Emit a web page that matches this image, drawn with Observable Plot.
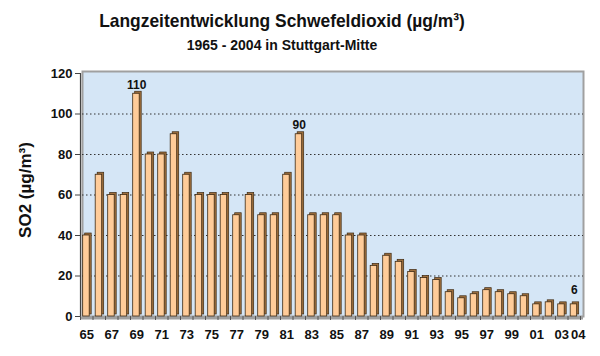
<!DOCTYPE html>
<html><head><meta charset="utf-8">
<script src="https://cdn.jsdelivr.net/npm/d3@7"></script>
<script src="https://cdn.jsdelivr.net/npm/@observablehq/plot@0.6"></script>
<style>
body{margin:0;background:#fff;font-family:"Liberation Sans",Arial,sans-serif;}
#wrap{position:relative;width:600px;height:356px;overflow:hidden;}
.t{position:absolute;left:0;width:564px;text-align:center;font-weight:bold;color:#111;white-space:nowrap;}
#title{top:10px;font-size:18.5px;line-height:22px;transform:scaleX(0.94);transform-origin:282px 0;}
#sub{top:37px;font-size:14px;line-height:16px;}
#chart{position:absolute;left:0;top:58px;}
</style></head>
<body>
<div id="wrap">
<div id="title" class="t">Langzeitentwicklung Schwefeldioxid (µg/m³)</div>
<div id="sub" class="t">1965 - 2004 in Stuttgart-Mitte</div>
<div id="chart"></div>
</div>
<script>
const years = [1965,1966,1967,1968,1969,1970,1971,1972,1973,1974,1975,1976,1977,1978,1979,1980,1981,1982,1983,1984,1985,1986,1987,1988,1989,1990,1991,1992,1993,1994,1995,1996,1997,1998,1999,2000,2001,2002,2003,2004];
const values = [40,70,60,60,110,80,80,90,70,60,60,60,50,60,50,50,70,90,50,50,50,40,40,25,30,27,22,19,18,12,9,11,13,12,11,10,6,7,6,6];
const tickYears = [1965,1967,1969,1971,1973,1975,1977,1979,1981,1983,1985,1987,1989,1991,1993,1995,1997,1999,2001,2003,2004];
const yTicks = [0,20,40,60,80,100,120];
const gridValues = [20,40,60,80,100];
const peakLabelYears = [1969,1982];
const endLabelYears = [2004];
const yLabel = "SO2 (µg/m³)";

const data = years.map((year,i)=>({year, value: values[i]}));
const peakLabels = data.filter(d=>peakLabelYears.includes(d.year));
const endLabels = data.filter(d=>endLabelYears.includes(d.year));
const boundaries = [...years, years[years.length-1]+1];
const yearFmt = d => String(Math.round(d - 0.5)).slice(2);

const chart = Plot.plot({
  width: 600,
  height: 298,
  marginLeft: 80,
  marginRight: 20,
  marginTop: 15,
  marginBottom: 40,
  style: {fontFamily: '"Liberation Sans", Arial, sans-serif', fontSize: "13px", fontWeight: "bold", color: "#111", background: "transparent"},
  x: {domain: [years[0], years[years.length-1]+1], label: null},
  y: {domain: [0, 120], label: null},
  marks: [
    Plot.frame({fill: "#d5e6f6", stroke: "#a0a0a0", strokeWidth: 2, insetLeft: 2, insetRight: -3, insetTop: -2}),
    Plot.ruleY(gridValues, {stroke: "#333", strokeOpacity: 1, strokeDasharray: "1.5,2.5", insetLeft: 2, insetRight: -3}),
    Plot.ruleY([0], {stroke: "#a0a0a0", strokeWidth: 3, dy: 1.5, insetRight: -3}),
    Plot.rectY(data, {x1: "year", x2: d => d.year + 1, y: "value", insetLeft: 2.7, insetRight: 3.3, dx: 2, dy: -2, fill: "#a0703e", stroke: "#3c2812", strokeWidth: 0.7}),
    Plot.rectY(data, {x1: "year", x2: d => d.year + 1, y: "value", insetLeft: 2.7, insetRight: 3.3, fill: "#ffcc99", stroke: "#3c2812", strokeWidth: 0.8}),
    Plot.ruleX([years[0]], {y1: 0, y2: 120, stroke: "#444", strokeWidth: 1.2}),
    Plot.axisY(yTicks, {tickSize: 5, tickPadding: 3, fontSize: 13, fontWeight: "bold", stroke: "#444"}),
    Plot.axisX(boundaries, {tickSize: 4, tickFormat: () => "", stroke: "#555"}),
    Plot.axisX(tickYears.slice(0, -1).map(y => y + 0.5), {tickSize: 0, tickPadding: 13, fontSize: 13, fontWeight: "bold", tickFormat: yearFmt}),
    Plot.axisX(tickYears.slice(-1).map(y => y + 0.5), {tickSize: 0, tickPadding: 13, dx: 4, fontSize: 13, fontWeight: "bold", tickFormat: yearFmt}),
    Plot.text(peakLabels, {x: d => d.year + 0.5, y: "value", text: d => String(d.value), dy: -9, fontSize: 12, fontWeight: "bold", fill: "#111"}),
    Plot.text(endLabels, {x: d => d.year + 0.5, y: "value", text: d => String(d.value), dy: -14, fontSize: 12, fontWeight: "bold", fill: "#111"}),
    Plot.text([yLabel], {frameAnchor: "left", textAnchor: "middle", dx: -55, dy: -5, rotate: -90, text: d => d, fontSize: 17, fontWeight: "bold", fill: "#111"})
  ]
});
document.getElementById("chart").appendChild(chart);
</script>
</body></html>
